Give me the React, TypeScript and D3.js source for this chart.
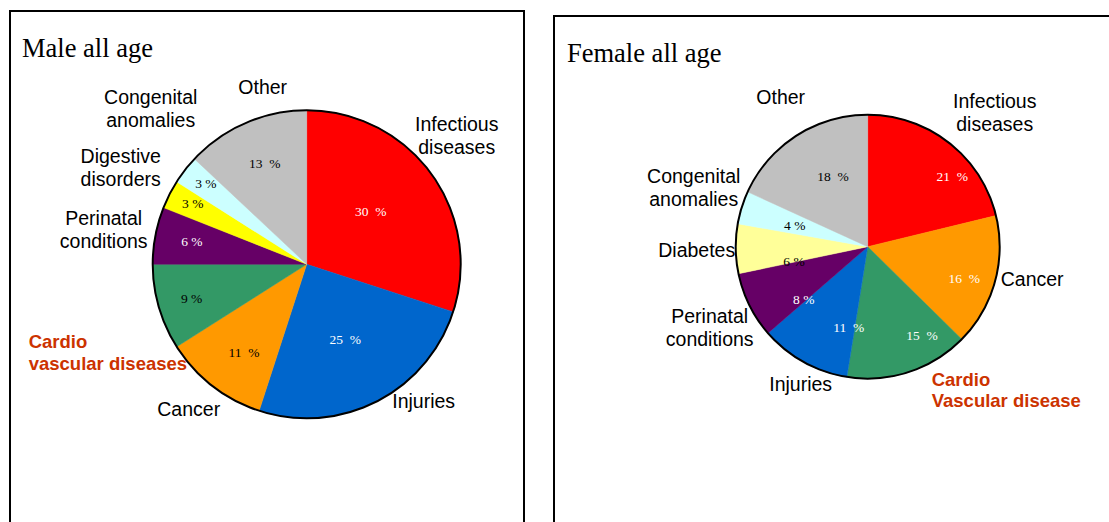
import { useRef, useEffect } from 'react';
import * as d3 from 'd3';

// Male, all ages (clockwise from 12 o'clock)
const maleCategories = [
  'Infectious\ndiseases',
  'Injuries',
  'Cancer',
  'Cardio\nvascular diseases',
  'Perinatal\nconditions',
  'Digestive\ndisorders',
  'Congenital\nanomalies',
  'Other',
];
const maleValues = [30, 25, 11, 9, 6, 3, 3, 13];

// Female, all ages
const femaleCategories = [
  'Infectious\ndiseases',
  'Cancer',
  'Cardio\nVascular disease',
  'Injuries',
  'Perinatal\nconditions',
  'Diabetes',
  'Congenital\nanomalies',
  'Other',
];
const femaleValues = [21, 16, 15, 11, 8, 6, 4, 18];

const maleColors = ['#FF0000', '#0066CC', '#FF9900', '#339966', '#660066', '#FFFF00', '#CCFFFF', '#C0C0C0'];
const femaleColors = ['#FF0000', '#FF9900', '#339966', '#0066CC', '#660066', '#FFFF99', '#CCFFFF', '#C0C0C0'];

interface Layout {
  title: string;
  box: [number, number, number];
  titlePos: [number, number];
  cx: number;
  cy: number;
  r: number;
  pctRadius: number[];
  pctShift: number[];
  pctColors: string[];
  labelPos: [number, number, string][];
  highlight: number;
}

const maleLayout: Layout = {
  title: 'Male all age',
  box: [10, 11, 514],
  titlePos: [22, 57],
  cx: 306.7,
  cy: 264.3,
  r: 154,
  pctRadius: [0.54, 0.55, 0.7, 0.78, 0.76, 0.84, 0.84, 0.71],
  pctShift: [-3.6, 0, -2.3, -0.5, 0.2, 1.2, 1, 0.9],
  pctColors: ['#fff', '#fff', '#000', '#000', '#fff', '#000', '#000', '#000'],
  labelPos: [
    [150, -133, 'middle'],
    [117, 144, 'middle'],
    [-118, 151.5, 'middle'],
    [-278, 84, 'start'],
    [-203, -39, 'middle'],
    [-186, -101, 'middle'],
    [-156, -160, 'middle'],
    [-44, -170, 'middle'],
  ],
  highlight: 3,
};

const femaleLayout: Layout = {
  title: 'Female all age',
  box: [554, 16, 700],
  titlePos: [567, 62],
  cx: 867.7,
  cy: 246.7,
  r: 132,
  pctRadius: [0.83, 0.77, 0.79, 0.63, 0.63, 0.57, 0.575, 0.59],
  pctShift: [12.3, 2.9, -13.2, -16, -13.4, -10.5, -1.3, 6.3],
  pctColors: ['#fff', '#fff', '#fff', '#fff', '#fff', '#000', '#000', '#000'],
  labelPos: [
    [127, -139, 'middle'],
    [133, 39, 'start'],
    [64, 139, 'start'],
    [-67, 144, 'middle'],
    [-158, 76, 'middle'],
    [-171, 10, 'middle'],
    [-174, -64, 'middle'],
    [-87, -143, 'middle'],
  ],
  highlight: 2,
};

const drawPanel = (
  svg: d3.Selection<SVGSVGElement, unknown, null, undefined>,
  categories: string[],
  values: number[],
  colors: string[],
  L: Layout
) => {
  svg.append('rect')
    .attr('x', L.box[0])
    .attr('y', L.box[1])
    .attr('width', L.box[2])
    .attr('height', 700)
    .attr('fill', 'none')
    .attr('stroke', '#000')
    .attr('stroke-width', 2);

  svg.append('text')
    .attr('x', L.titlePos[0])
    .attr('y', L.titlePos[1])
    .attr('font-family', '"Liberation Serif", "Times New Roman", serif')
    .attr('font-size', 26.5)
    .text(L.title);

  const pie = d3.pie<number>().sort(null).value(d => d);
  const arcs = pie(values);
  const arc = d3.arc<d3.PieArcDatum<number>>().innerRadius(0).outerRadius(L.r);

  const g = svg.append('g').attr('transform', `translate(${L.cx},${L.cy})`);

  g.selectAll('path.slice')
    .data(arcs)
    .enter().append('path')
    .attr('class', 'slice')
    .attr('d', arc)
    .attr('fill', (d, i) => colors[i])
    .attr('stroke', (d, i) => colors[i])
    .attr('stroke-width', 0.5);

  g.append('circle')
    .attr('r', L.r)
    .attr('fill', 'none')
    .attr('stroke', '#000')
    .attr('stroke-width', 2);

  // percentage labels inside the slices
  g.selectAll('text.pct')
    .data(arcs)
    .enter().append('text')
    .attr('class', 'pct')
    .attr('x', (d, i) => {
      const a = (d.startAngle + d.endAngle) / 2 + (L.pctShift[i] * Math.PI) / 180;
      return Math.sin(a) * L.r * L.pctRadius[i];
    })
    .attr('y', (d, i) => {
      const a = (d.startAngle + d.endAngle) / 2 + (L.pctShift[i] * Math.PI) / 180;
      return -Math.cos(a) * L.r * L.pctRadius[i] + 4.5;
    })
    .attr('text-anchor', 'middle')
    .attr('font-family', '"Liberation Serif", "Times New Roman", serif')
    .attr('font-size', 13.5)
    .attr('fill', (d, i) => L.pctColors[i])
    .style('white-space', 'pre')
    .text(d => (d.data >= 10 ? `${d.data}  %` : `${d.data} %`));

  // category labels
  categories.forEach((name, i) => {
    const [dx, dy, anchor] = L.labelPos[i];
    const hi = i === L.highlight;
    const t = g.append('text')
      .attr('x', dx)
      .attr('y', dy)
      .attr('text-anchor', anchor)
      .attr('font-family', '"Liberation Sans", Arial, sans-serif')
      .attr('font-size', hi ? 18.5 : 19.5)
      .attr('font-weight', hi ? 'bold' : 'normal')
      .attr('fill', hi ? '#CC3300' : '#000');
    name.split('\n').forEach((line, j) => {
      t.append('tspan')
        .attr('x', dx)
        .attr('dy', j === 0 ? 0 : hi ? 21.5 : 23)
        .text(line);
    });
  });
};

const App = () => {
  const svgRef = useRef<SVGSVGElement>(null);

  useEffect(() => {
    const svg = d3.select(svgRef.current as SVGSVGElement)
      .attr('width', 1109)
      .attr('height', 522);

    svg.selectAll('*').remove();

    svg.append('rect').attr('width', 1109).attr('height', 522).attr('fill', '#fff');

    drawPanel(svg, maleCategories, maleValues, maleColors, maleLayout);
    drawPanel(svg, femaleCategories, femaleValues, femaleColors, femaleLayout);
  }, []);

  return (
    <svg
      ref={svgRef}
      style={{ position: 'absolute', left: 0, top: 0, display: 'block' }}
    ></svg>
  );
};

export default App;
